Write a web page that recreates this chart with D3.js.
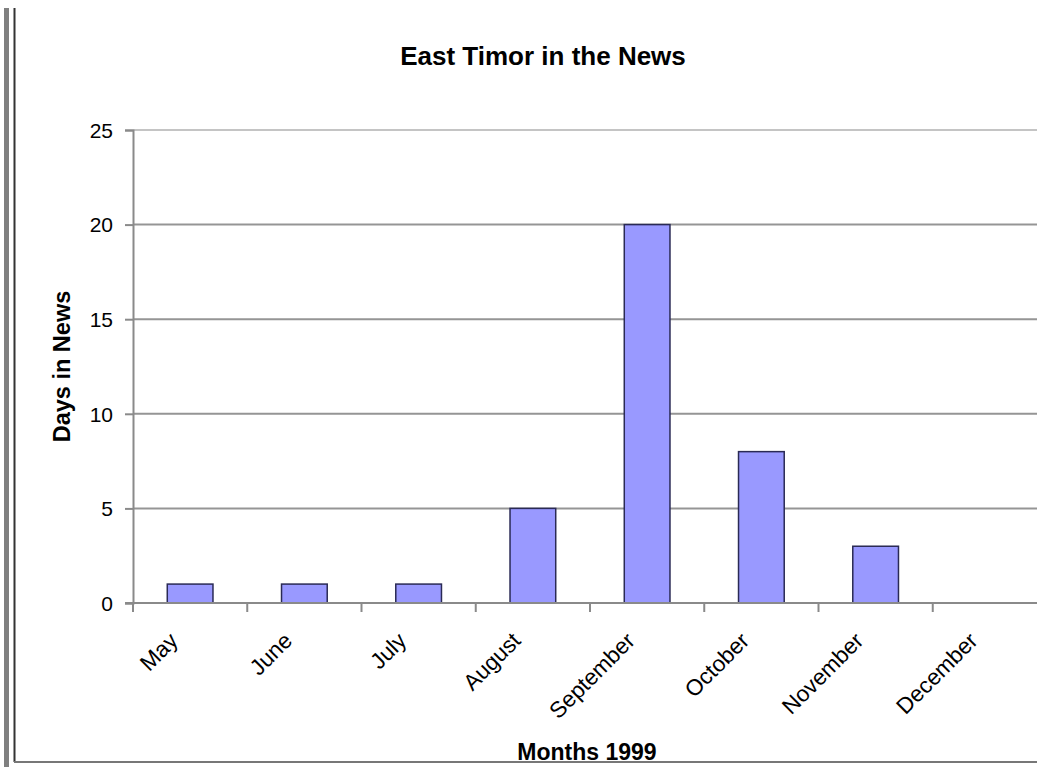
<html>
<head>
<script src="https://d3js.org/d3.v7.min.js"></script>
<style>
  body { margin: 0; background: #fff; }
  svg { display: block; font-family: "Liberation Sans", Arial, sans-serif; }
</style>
</head>
<body>
<svg width="1037" height="767"></svg>
<script>
// chart data
const months = ["May", "June", "July", "August", "September", "October", "November", "December"];
const days = [1, 1, 1, 5, 20, 8, 3, 0];
const yTicks = [0, 5, 10, 15, 20, 25];

const svg = d3.select("svg");

// plot area (runs past the right edge, as in the cropped original)
const pl = 133, pr = 1047, pt = 130, pb = 603;

const x = d3.scaleBand()
    .domain(months)
    .range([pl, pr])
    .paddingInner(0.6)
    .paddingOuter(0.3);
const y = d3.scaleLinear()
    .domain([0, 25])
    .range([pb, pt]);

// page frame bits
svg.append("rect").attr("x", 4).attr("y", 8).attr("width", 5).attr("height", 759).attr("fill", "#808080");
svg.append("line").attr("x1", 14.5).attr("x2", 14.5).attr("y1", 8).attr("y2", 762)
    .attr("stroke", "#333").attr("stroke-width", 2);

// gridlines
svg.append("g")
    .selectAll("line")
    .data(yTicks)
    .enter()
    .append("line")
    .attr("x1", pl)
    .attr("x2", pr)
    .attr("y1", d => y(d))
    .attr("y2", d => y(d))
    .attr("stroke", d => d == 25 ? "#c4c4c4" : "#959595")
    .attr("stroke-width", 2);

// bars
svg.append("g")
    .selectAll("rect")
    .data(days)
    .enter()
    .append("rect")
    .attr("x", (d, i) => x(months[i]))
    .attr("y", d => y(d))
    .attr("width", x.bandwidth())
    .attr("height", d => y(0) - y(d))
    .attr("fill", "#9999ff")
    .attr("stroke", d => d > 0 ? "#2a2a55" : "none")
    .attr("stroke-width", 1.5);

// y axis
const yAxis = svg.append("g")
    .attr("transform", "translate(" + pl + ",0)")
    .call(d3.axisLeft(y).tickValues(yTicks).tickSize(8).tickPadding(12));
yAxis.select(".domain").attr("stroke", "#8a8a8a").attr("stroke-width", 2);
yAxis.selectAll(".tick line").attr("stroke", "#8a8a8a").attr("stroke-width", 2);
yAxis.selectAll("text").style("font-size", "21px").attr("fill", "#000").attr("dy", "0.35em");

// x axis line + ticks between categories
svg.append("line")
    .attr("x1", pl - 8).attr("x2", pr)
    .attr("y1", y(0)).attr("y2", y(0))
    .attr("stroke", "#8a8a8a").attr("stroke-width", 2);
svg.append("g")
    .selectAll("line")
    .data(d3.range(months.length + 1))
    .enter()
    .append("line")
    .attr("x1", i => pl + i * x.step())
    .attr("x2", i => pl + i * x.step())
    .attr("y1", y(0))
    .attr("y2", y(0) + 9)
    .attr("stroke", "#8a8a8a")
    .attr("stroke-width", 2);

// month labels, rotated
svg.append("g")
    .selectAll("text")
    .data(months)
    .enter()
    .append("text")
    .attr("transform", d => "translate(" + (x(d) + x.bandwidth() / 2 - 22) + "," + (y(0) + 28) + ") rotate(-45)")
    .style("text-anchor", "end")
    .style("font-size", "22.5px")
    .attr("dy", "0.7em")
    .text(d => d);

// titles
svg.append("text")
    .attr("x", 543)
    .attr("y", 65)
    .style("text-anchor", "middle")
    .style("font-size", "26px")
    .style("font-weight", "bold")
    .text("East Timor in the News");

svg.append("text")
    .attr("transform", "translate(70," + ((pt + pb) / 2) + ") rotate(-90)")
    .style("text-anchor", "middle")
    .style("font-size", "23.5px")
    .style("font-weight", "bold")
    .text("Days in News");

svg.append("text")
    .attr("x", (pl + pr) / 2 - 3)
    .attr("y", 760)
    .style("text-anchor", "middle")
    .style("font-size", "23px")
    .style("font-weight", "bold")
    .text("Months 1999");

// bottom frame line
svg.append("line").attr("x1", 14).attr("x2", 1037).attr("y1", 762).attr("y2", 762)
    .attr("stroke", "#777").attr("stroke-width", 2);
</script>
</body>
</html>
